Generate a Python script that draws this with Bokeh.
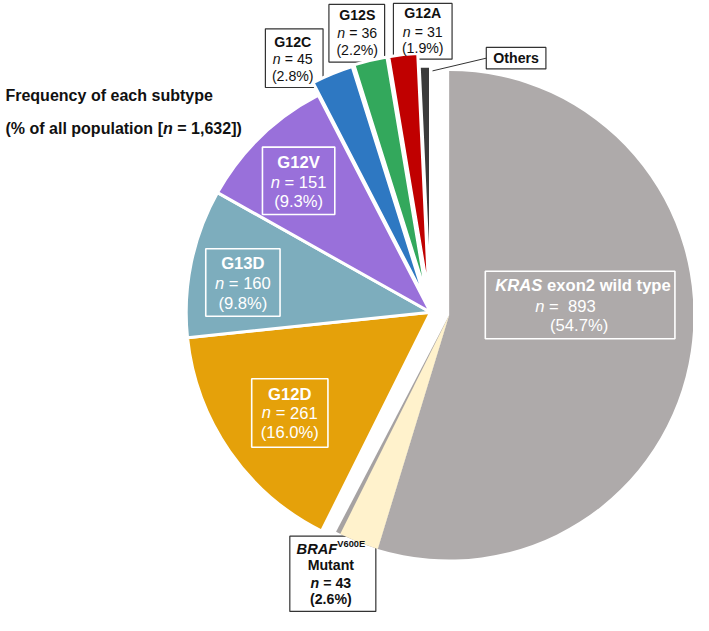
import math
import numpy as np
from bokeh.plotting import figure
from bokeh.models import Range1d
from bokeh.core.properties import value
from bokeh.embed import file_html
from bokeh.resources import INLINE

# ---------------- data ----------------
categories = ["KRAS exon2 wild type", "BRAF V600E Mutant", "G12D", "G13D", "G12V",
              "G12C", "G12S", "G12A", "Others"]
counts = [893, 43, 261, 160, 151, 45, 36, 31, 12]
percents = ["54.7%", "2.6%", "16.0%", "9.8%", "9.3%", "2.8%", "2.2%", "1.9%", None]
total_n = "1,632"
title_line1 = "Frequency of each subtype"

# ---------------- styles / layout ----------------
colors = ["#AEAAAA", "#FFF2CC", "#E5A10A", "#7DADBD", "#9970DA",
          "#2E78C2", "#33A85C", "#C00000", "#3B3B3B"]
group = [0, 0, 1, 1, 1, 1, 1, 1, 1]
group_center = {0: (459, 322), 1: (440, 319)}   # reference pixel coords
RADIUS = 250
explode = [0, 0, 0, 0, 0, 14, 15, 15, 2]
FONT = "Liberation Sans"

W, H = 693, 615
S = W / 709.0
Y_TOP = 631.0
Y_BOT = 631.0 - H / S


def X(x):
    return x


def Y(y):
    return 631.0 - y


REG = {' ': 278, 'n': 556, '=': 584, '(': 333, ')': 333, '.': 278, '%': 889, ',': 278,
       '[': 278, ']': 278, 'e': 556, 'x': 500, 'o': 556, 'w': 722, 'i': 222, 'l': 222,
       'd': 556, 't': 278, 'y': 500, 'p': 556, 'K': 667, 'R': 722, 'A': 667, 'S': 667,
       'B': 667, 'F': 611, 'M': 833, 'u': 556, 'a': 556, 'G': 778, 'C': 722, 'V': 667,
       'D': 722, 'E': 667, 'r': 333, 'q': 556, 'c': 500, 'h': 556, 's': 500, 'b': 556,
       'f': 278, 'O': 778}
BOLD = {' ': 278, 'n': 611, '=': 584, '(': 333, ')': 333, '.': 278, '%': 889, ',': 278,
        '[': 333, ']': 333, 'e': 556, 'x': 556, 'o': 611, 'w': 778, 'i': 278, 'l': 278,
        'd': 611, 't': 333, 'y': 556, 'p': 611, 'K': 722, 'R': 722, 'A': 722, 'S': 667,
        'B': 722, 'F': 611, 'M': 833, 'u': 611, 'a': 556, 'G': 778, 'C': 722, 'V': 667,
        'D': 722, 'E': 667, 'r': 389, 'q': 611, 'c': 556, 'h': 611, 's': 556, 'b': 611,
        'f': 333, 'O': 778}
for d in "0123456789":
    REG[d] = 556
    BOLD[d] = 556


def width(txt, bold, size):
    tbl = BOLD if bold else REG
    return sum(tbl.get(c, 556) for c in txt) * size / 1000.0


p = figure(width=W, height=H, x_range=Range1d(0, 709), y_range=Range1d(Y_BOT, Y_TOP),
           output_backend="svg", toolbar_location=None, min_border=0)
p.axis.visible = False
p.grid.visible = False
p.outline_line_color = None
p.background_fill_color = "white"
p.border_fill_color = "white"


def draw_segments(segs, x, y, color, anchor="center"):
    # segs: (text, bold, italic, size, dy); each word is placed on its own so spacing is kept
    total = sum(width(t, b, sz) for t, b, i, sz, dy in segs)
    cur = x - total / 2.0 if anchor == "center" else x
    for t, b, it, sz, dy in segs:
        style = "bold italic" if (b and it) else ("bold" if b else ("italic" if it else "normal"))
        pos = cur
        word = ""
        for ch in t + " ":
            if ch == " ":
                if word:
                    p.text(x=[X(pos)], y=[Y(y + dy)], text=[word],
                           text_font=value(FONT), text_font_size=value(f"{sz * S:.2f}px"),
                           text_font_style=value(style), text_color=color,
                           text_align="left", text_baseline="middle")
                    pos += width(word, b, sz)
                    word = ""
                pos += width(" ", b, sz)
            else:
                word += ch
        cur += width(t, b, sz)


# ---------------- label layout ----------------
layout = {
    "KRAS exon2 wild type": dict(box=(496, 277, 690, 346), xs=(596, 578, 592), ys=(292, 313, 333),
                                 size=17, color="white", edge="white", inside=True),
    "BRAF V600E Mutant": dict(box=(296, 548, 384, 625), xs=(338, 338, 338, 338), ys=(561, 578, 596, 612),
                              size=14.5, color="#111111", edge="#333333", inside=False),
    "G12D": dict(box=(257, 387, 335, 457), xs=(296, 296, 296), ys=(403, 422, 442),
                 size=17, color="white", edge="white", inside=True),
    "G13D": dict(box=(210, 254, 286, 323), xs=(248, 248, 248), ys=(269, 289.5, 309.5),
                 size=17, color="white", edge="white", inside=True),
    "G12V": dict(box=(268, 150, 342, 219), xs=(305, 305, 305), ys=(166, 186, 206),
                 size=17, color="white", edge="white", inside=True),
    "G12C": dict(box=(271, 29, 330, 89), xs=(299, 299, 299), ys=(42, 60, 77),
                 size=14.5, color="#111111", edge="#333333", inside=False),
    "G12S": dict(box=(336, 4, 393, 63), xs=(365, 365, 365), ys=(15, 33, 51),
                 size=14.5, color="#111111", edge="#333333", inside=False),
    "G12A": dict(box=(402, 3, 462, 60), xs=(432, 432, 432), ys=(13, 32, 49),
                 size=14.5, color="#111111", edge="#333333", inside=False),
    "Others": dict(box=(497, 48, 558, 70), xs=(527.5,), ys=(59,),
                   size=14.5, color="#111111", edge="#333333", inside=False),
}

# outside boxes first (slices are drawn over them)
for name in categories:
    L = layout[name]
    if not L["inside"]:
        l, t, r, b = L["box"]
        p.quad(left=[X(l)], right=[X(r)], top=[Y(t)], bottom=[Y(b)],
               fill_color=None, line_color=L["edge"], line_width=1.2)

# ---------------- slices ----------------
tot = float(sum(counts))
cum = np.concatenate([[0.0], np.cumsum(counts)]) / tot * 360.0


def ang(cw_deg):
    return math.radians(90.0 - cw_deg)


def center_of(i):
    cx, cy = group_center[group[i]]
    bis = math.radians((cum[i] + cum[i + 1]) / 2.0)
    d = explode[i]
    return cx + d * math.sin(bis), cy - d * math.cos(bis)


# group 0: wild type + BRAF (no white separators; thin gray shadow beside BRAF)
cx0, cy0 = center_of(0)
p.wedge(x=[X(cx0)], y=[Y(cy0)], radius=RADIUS, start_angle=ang(cum[0]), end_angle=ang(cum[1]),
        direction="clock", fill_color=colors[0], line_color=None)
cxb, cyb = center_of(1)
p.wedge(x=[X(cxb)], y=[Y(cyb)], radius=RADIUS, start_angle=ang(cum[1]), end_angle=ang(cum[2] + 1.1),
        direction="clock", fill_color="#A6A2A2", line_color=None)
p.wedge(x=[X(cxb)], y=[Y(cyb)], radius=RADIUS, start_angle=ang(cum[1]), end_angle=ang(cum[2]),
        direction="clock", fill_color=colors[1], line_color=None)

# group 1: KRAS mutants, separated by white lines
for i in range(2, len(categories)):
    cx, cy = center_of(i)
    p.wedge(x=[X(cx)], y=[Y(cy)], radius=RADIUS, start_angle=ang(cum[i]), end_angle=ang(cum[i + 1]),
            direction="clock", fill_color=colors[i], line_color="white", line_width=3)

# leader line for "Others"
p.segment(x0=[X(442)], y0=[Y(72)], x1=[X(497)], y1=[Y(59)], line_color="#333333", line_width=1)

# inside boxes
for name in categories:
    L = layout[name]
    if L["inside"]:
        l, t, r, b = L["box"]
        p.quad(left=[X(l)], right=[X(r)], top=[Y(t)], bottom=[Y(b)],
               fill_color=None, line_color=L["edge"], line_width=1.6)

# ---------------- label texts ----------------
for i, name in enumerate(categories):
    L = layout[name]
    sz, col = L["size"], L["color"]
    xs, ys = L["xs"], L["ys"]
    if i == 0:
        first, rest = name.split(" ", 1)
        lines = [[(first, True, True, sz, 0), (" " + rest, True, False, sz, 0)],
                 [("n", False, True, sz, 0), (f" =  {counts[i]}", False, False, sz, 0)],
                 [(f"({percents[i]})", False, False, sz, 0)]]
    elif i == 1:
        gene, mut, word = name.split(" ")
        lines = [[(gene, True, True, 15, 0), (mut, True, False, 9.5, -5)],
                 [(word, True, False, sz, 0)],
                 [("n", True, True, sz, 0), (f" = {counts[i]}", True, False, sz, 0)],
                 [(f"({percents[i]})", True, False, sz, 0)]]
    elif percents[i] is None:
        lines = [[(name, True, False, sz, 0)]]
    else:
        lines = [[(name, True, False, sz, 0)],
                 [("n", False, True, sz, 0), (f" = {counts[i]}", False, False, sz, 0)],
                 [(f"({percents[i]})", False, False, sz, 0)]]
    for segs, lx, ly in zip(lines, xs, ys):
        draw_segments(segs, lx, ly, col)

# ---------------- title ----------------
TS = 16.4
draw_segments([(title_line1, True, False, TS, 0)], 5, 97, "#111111", anchor="left")
draw_segments([("(% of all population [", True, False, TS, 0), ("n", True, True, TS, 0),
               (f" = {total_n}])", True, False, TS, 0)], 5, 130, "#111111", anchor="left")

open("out.html", "w").write(file_html(p, INLINE))
